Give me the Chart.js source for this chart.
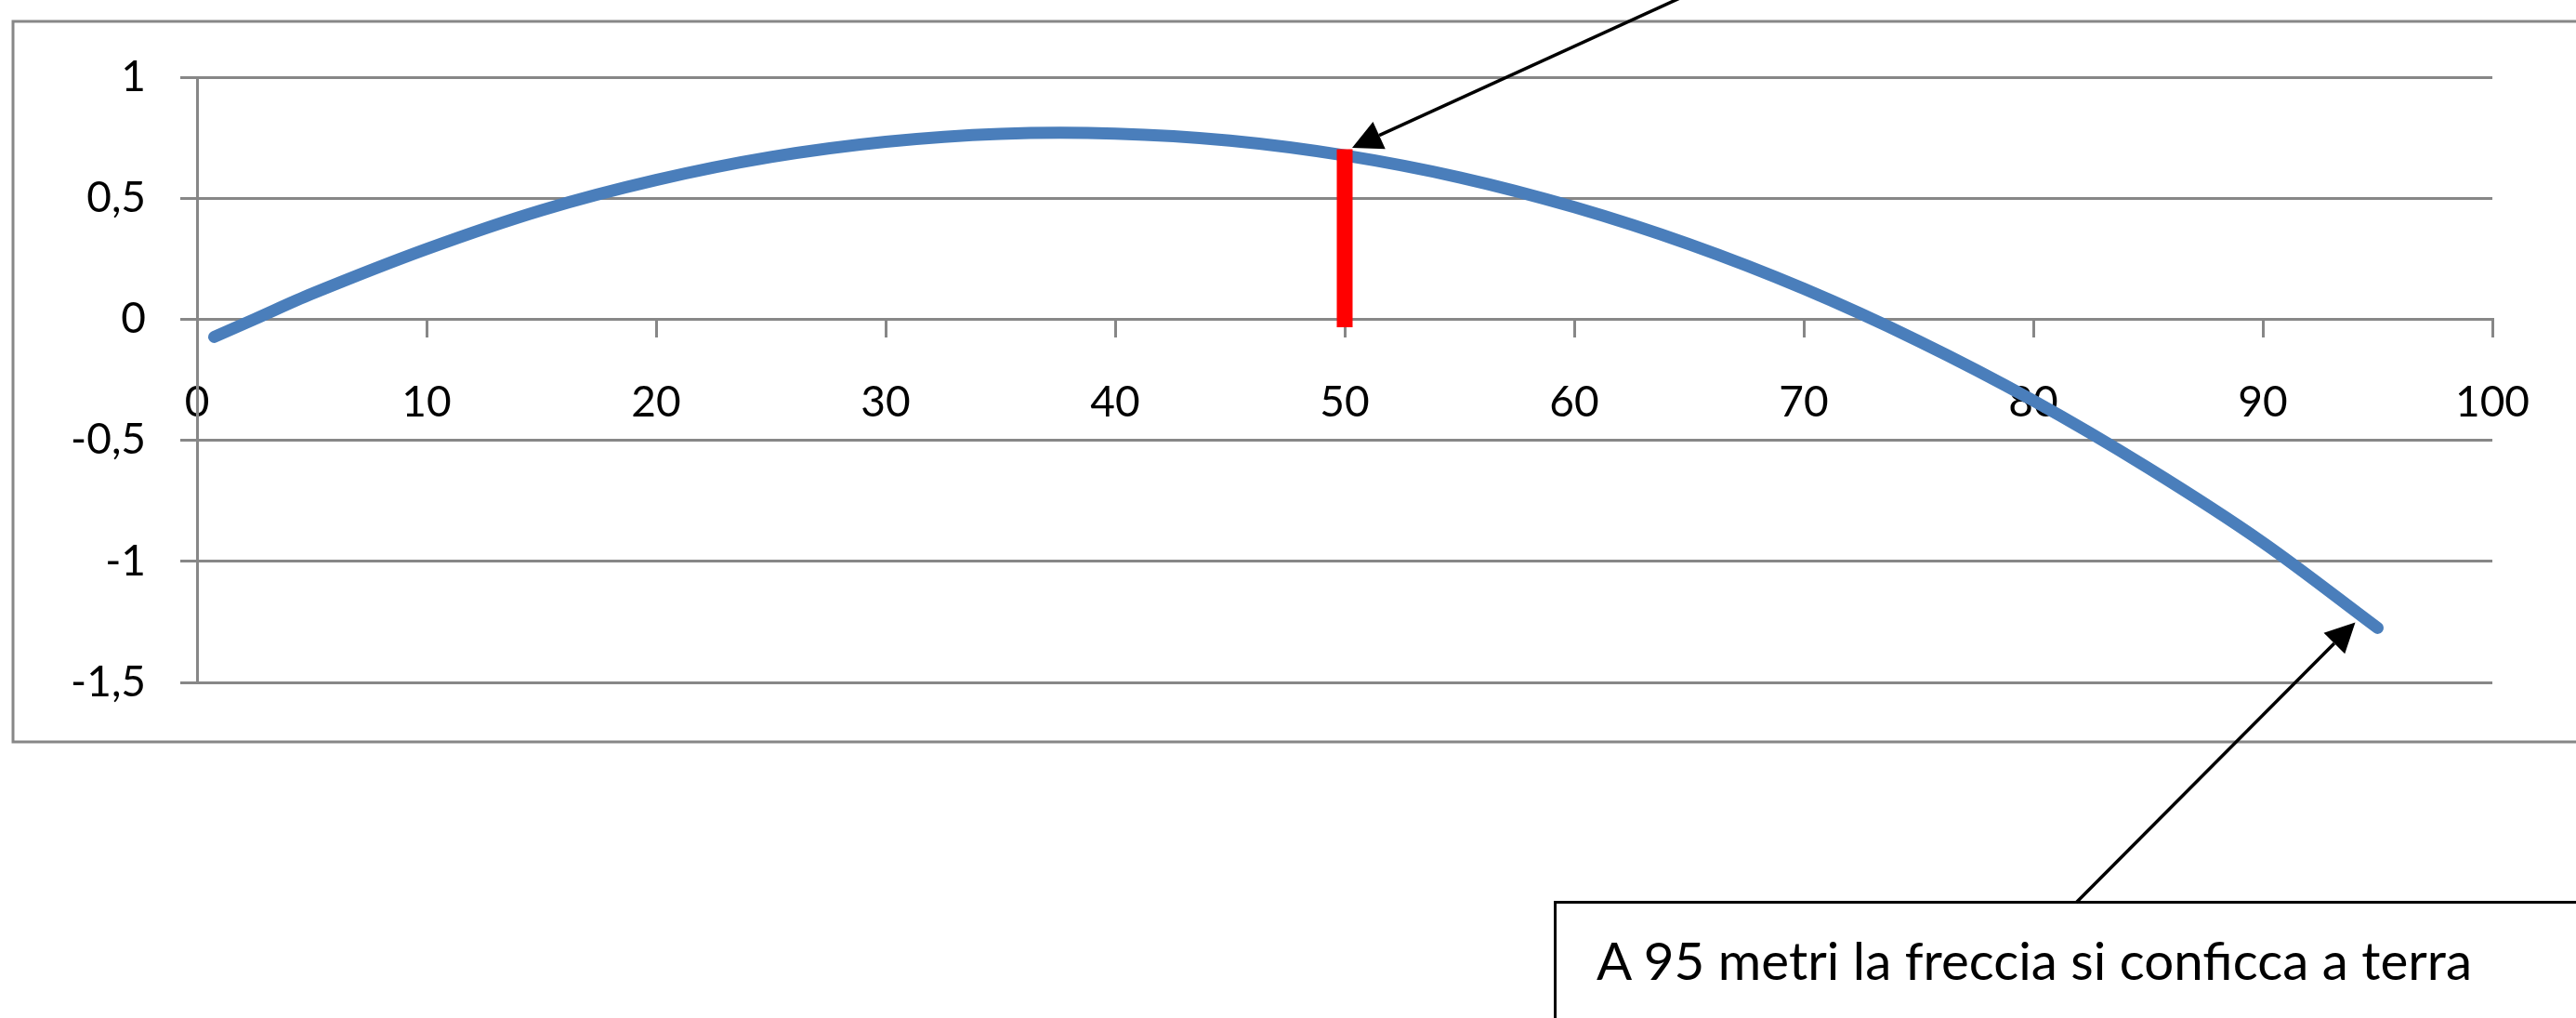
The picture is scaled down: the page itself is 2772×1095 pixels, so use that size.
<!DOCTYPE html>
<html>
<head>
<meta charset="utf-8">
<script src="https://cdn.jsdelivr.net/npm/chart.js@4.4.1/dist/chart.umd.min.js"></script>
<style>
  html, body { margin: 0; padding: 0; background: #fff; overflow: hidden; }
  #wrap { position: relative; width: 2772px; height: 1095px; }
  #note {
    position: absolute; left: 1672px; top: 969px; width: 1200px; height: 200px;
    border: 3px solid #000; box-sizing: border-box;
  }
  #note span {
    position: absolute; left: 43px; top: 33px; white-space: nowrap;
    font-family: Lato, sans-serif; font-size: 56px; line-height: 1; color: #000;
    transform-origin: left top;
  }
</style>
</head>
<body>
<div id="wrap">
  <canvas id="chart" width="2772" height="1095"></canvas>
  <div id="note"><span id="note-text">A 95 metri la freccia si conficca a terra</span></div>
</div>
<script>
// Traiettoria della freccia (x = metri, y = altezza)
const distances = [0.75, 2.5, 5, 10, 15, 20, 25, 30, 35, 40, 45, 50, 55, 60, 65, 70, 75, 80, 85, 90, 95];
const heights = [-0.073, 0, 0.105, 0.29, 0.45, 0.575, 0.67, 0.733, 0.766, 0.767, 0.738, 0.677, 0.586, 0.463, 0.31, 0.126, -0.09, -0.336, -0.614, -0.922, -1.275];

// Segmento rosso a 50 metri
const markerX = [50, 50];
const markerY = [0, 0.67];

const xTickValues = [0, 10, 20, 30, 40, 50, 60, 70, 80, 90, 100];
const yTickValues = [1, 0.5, 0, -0.5, -1, -1.5];
const yTickLabels = ['1', '0,5', '0', '-0,5', '-1', '-1,5'];

const GRID = '#878787';
const FONT = { family: 'Lato, sans-serif', size: 46 };

function drawArrow(ctx, x1, y1, x2, y2) {
  const ang = Math.atan2(y2 - y1, x2 - x1);
  const headLen = 32, headHalf = 16;
  const bx = x2 - headLen * Math.cos(ang);
  const by = y2 - headLen * Math.sin(ang);
  ctx.beginPath();
  ctx.moveTo(x1, y1);
  ctx.lineTo(bx, by);
  ctx.stroke();
  ctx.beginPath();
  ctx.moveTo(x2, y2);
  ctx.lineTo(bx + headHalf * Math.sin(ang), by - headHalf * Math.cos(ang));
  ctx.lineTo(bx - headHalf * Math.sin(ang), by + headHalf * Math.cos(ang));
  ctx.closePath();
  ctx.fill();
}

// Bordo esterno e frecce di annotazione
const extras = {
  id: 'extras',
  afterDraw(chart) {
    const ctx = chart.ctx;
    const xs = chart.scales.x, ys = chart.scales.y;
    ctx.save();
    ctx.strokeStyle = GRID;
    ctx.lineWidth = 3;
    ctx.strokeRect(14, 23, 2800, 775);

    ctx.strokeStyle = '#000';
    ctx.fillStyle = '#000';
    ctx.lineWidth = 3.5;
    // freccia verso il segmento rosso
    const t1x = xs.getPixelForValue(markerX[1]) + 8;
    const t1y = ys.getPixelForValue(markerY[1]) - 10;
    drawArrow(ctx, 1812, -4, t1x, t1y);
    // freccia dal riquadro verso il punto finale
    const last = distances.length - 1;
    const t2x = xs.getPixelForValue(distances[last]) - 24;
    const t2y = ys.getPixelForValue(heights[last]) - 6;
    drawArrow(ctx, 2234, 971, t2x, t2y);
    ctx.restore();
  }
};

new Chart(document.getElementById('chart'), {
  type: 'line',
  data: {
    datasets: [{
      label: 'Traiettoria',
      data: distances.map((d, i) => ({ x: d, y: heights[i] })),
      borderColor: '#4a7ebb',
      borderWidth: 13,
      borderCapStyle: 'round',
      borderJoinStyle: 'round',
      tension: 0.33,
      pointRadius: 0,
      fill: false,
      order: 1
    }, {
      label: '50 m',
      data: markerX.map((d, i) => ({ x: d, y: markerY[i] })),
      borderColor: '#ff0000',
      borderWidth: 17,
      borderCapStyle: 'square',
      tension: 0,
      pointRadius: 0,
      fill: false,
      order: 0
    }]
  },
  options: {
    responsive: false,
    devicePixelRatio: 1,
    animation: false,
    layout: { padding: { left: 0, right: 90, top: 83, bottom: 361 } },
    scales: {
      x: {
        type: 'linear',
        min: 0,
        max: 100,
        position: { y: 0 },
        afterBuildTicks: (scale) => { scale.ticks = xTickValues.map(v => ({ value: v })); },
        grid: { drawOnChartArea: false, drawTicks: true, tickLength: 18, color: GRID, lineWidth: 3 },
        border: { display: true, color: GRID, width: 3 },
        ticks: { padding: 44, font: FONT, color: '#000', autoSkip: false, maxRotation: 0 }
      },
      y: {
        min: -1.5,
        max: 1,
        afterBuildTicks: (scale) => { scale.ticks = yTickValues.map(v => ({ value: v })); },
        afterFit: (scale) => { scale.width = 212; },
        grid: { color: GRID, lineWidth: 3, tickLength: 18 },
        border: { display: true, color: GRID, width: 3 },
        ticks: {
          padding: 37, font: FONT, color: '#000',
          callback: (v) => { const i = yTickValues.indexOf(v); return i >= 0 ? yTickLabels[i] : ''; }
        }
      }
    },
    plugins: { legend: { display: false }, tooltip: { enabled: false } }
  },
  plugins: [extras]
});

// adatta la larghezza del testo del riquadro
const span = document.getElementById('note-text');
const w = span.getBoundingClientRect().width;
span.style.transform = 'scaleX(' + (942 / w) + ')';
</script>
</body>
</html>
